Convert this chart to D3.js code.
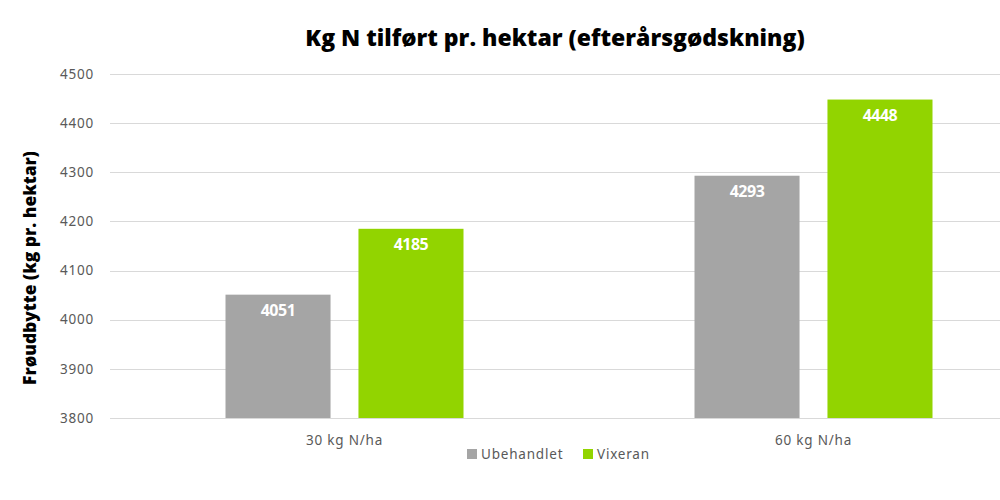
<!DOCTYPE html>
<html>
<head>
<meta charset="utf-8">
<script src="https://cdn.jsdelivr.net/npm/d3@7"></script>
<style>
  body { margin: 0; background: #fff; }
  svg { display: block; }
</style>
</head>
<body>
<div id="chart"></div>
<script>
// data
var categories = ["30 kg N/ha", "60 kg N/ha"];
var seriesNames = ["Ubehandlet", "Vixeran"];
var ubehandlet = [4051, 4293];
var vixeran = [4185, 4448];
var yTicks = [3800, 3900, 4000, 4100, 4200, 4300, 4400, 4500];
var colors = ["#a5a5a5", "#92d400"];

var width = 1000, height = 500;
var plotLeft = 110, plotRight = 1048, plotTop = 74, plotBottom = 418;

var svg = d3.select("#chart")
  .append("svg")
    .attr("width", width)
    .attr("height", height);

// title
svg.append("text")
  .attr("x", 555)
  .attr("y", 46)
  .attr("text-anchor", "middle")
  .style("font-family", "'Open Sans', 'Noto Sans', sans-serif")
  .style("font-weight", "800")
  .style("font-size", "23px")
  .style("fill", "#000")
  .text("Kg N tilført pr. hektar (efterårsgødskning)");

// scales
var x0 = d3.scaleBand()
  .domain(categories)
  .range([plotLeft, plotRight]);

var x1 = d3.scaleBand()
  .domain(seriesNames)
  .range([0, 238])
  .paddingInner(0.21);

var y = d3.scaleLinear()
  .domain([3800, 4500])
  .range([plotBottom, plotTop]);

// gridlines
svg.append("g")
  .selectAll("line")
  .data(yTicks)
  .enter()
  .append("line")
    .attr("x1", plotLeft)
    .attr("x2", width)
    .attr("y1", function(d) { return Math.round(y(d)) + 0.5; })
    .attr("y2", function(d) { return Math.round(y(d)) + 0.5; })
    .attr("stroke", "#d9d9d9")
    .attr("stroke-width", 1);

var smallFont = function(sel) {
  sel.style("font-family", "'Noto Sans', sans-serif")
    .style("font-size", "13.5px")
    .style("letter-spacing", "0.8px")
    .style("fill", "#595959");
};

// y tick labels
svg.append("g")
  .selectAll("text")
  .data(yTicks)
  .enter()
  .append("text")
    .attr("x", 94)
    .attr("y", function(d) { return y(d); })
    .attr("dy", "0.35em")
    .attr("text-anchor", "end")
    .call(smallFont)
    .text(function(d) { return d; });

// y axis title
svg.append("text")
  .attr("transform", "translate(36,268)rotate(-90)")
  .attr("text-anchor", "middle")
  .style("font-family", "'Open Sans', 'Noto Sans', sans-serif")
  .style("font-weight", "800")
  .style("font-size", "17.4px")
  .style("fill", "#000")
  .text("Frøudbytte (kg pr. hektar)");

// bars
var rows = categories.map(function(c, i) {
  return [
    {cat: c, name: seriesNames[0], value: ubehandlet[i], color: colors[0]},
    {cat: c, name: seriesNames[1], value: vixeran[i], color: colors[1]}
  ];
});

var groups = svg.append("g")
  .selectAll("g")
  .data(rows)
  .enter()
  .append("g")
    .attr("transform", function(d) {
      return "translate(" + (x0(d[0].cat) + x0.bandwidth() / 2 - 119) + ",0)";
    });

groups.selectAll("rect")
  .data(function(d) { return d; })
  .enter()
  .append("rect")
    .attr("x", function(d) { return x1(d.name); })
    .attr("y", function(d) { return y(d.value); })
    .attr("width", x1.bandwidth())
    .attr("height", function(d) { return plotBottom - y(d.value); })
    .attr("fill", function(d) { return d.color; });

groups.selectAll("text")
  .data(function(d) { return d; })
  .enter()
  .append("text")
    .attr("x", function(d) { return x1(d.name) + x1.bandwidth() / 2; })
    .attr("y", function(d) { return y(d.value) + 21; })
    .attr("text-anchor", "middle")
    .style("font-family", "'Open Sans', 'Noto Sans', sans-serif")
    .style("font-weight", "bold")
    .style("font-size", "16px")
    .style("letter-spacing", "-0.5px")
    .style("fill", "#fff")
    .text(function(d) { return d.value; });

// category labels
svg.append("g")
  .selectAll("text")
  .data(categories)
  .enter()
  .append("text")
    .attr("x", function(d) { return x0(d) + x0.bandwidth() / 2; })
    .attr("y", 445)
    .attr("text-anchor", "middle")
    .call(smallFont)
    .text(function(d) { return d; });

// legend
var legendX = [467, 583];
var legend = svg.append("g")
  .selectAll("g")
  .data(seriesNames)
  .enter()
  .append("g")
    .attr("transform", function(d, i) { return "translate(" + legendX[i] + ",449)"; });

legend.append("rect")
  .attr("width", 10)
  .attr("height", 10)
  .attr("fill", function(d, i) { return colors[i]; });

legend.append("text")
  .attr("x", 14)
  .attr("y", 5)
  .attr("dy", "0.35em")
  .call(smallFont)
  .text(function(d) { return d; });
</script>
</body>
</html>
